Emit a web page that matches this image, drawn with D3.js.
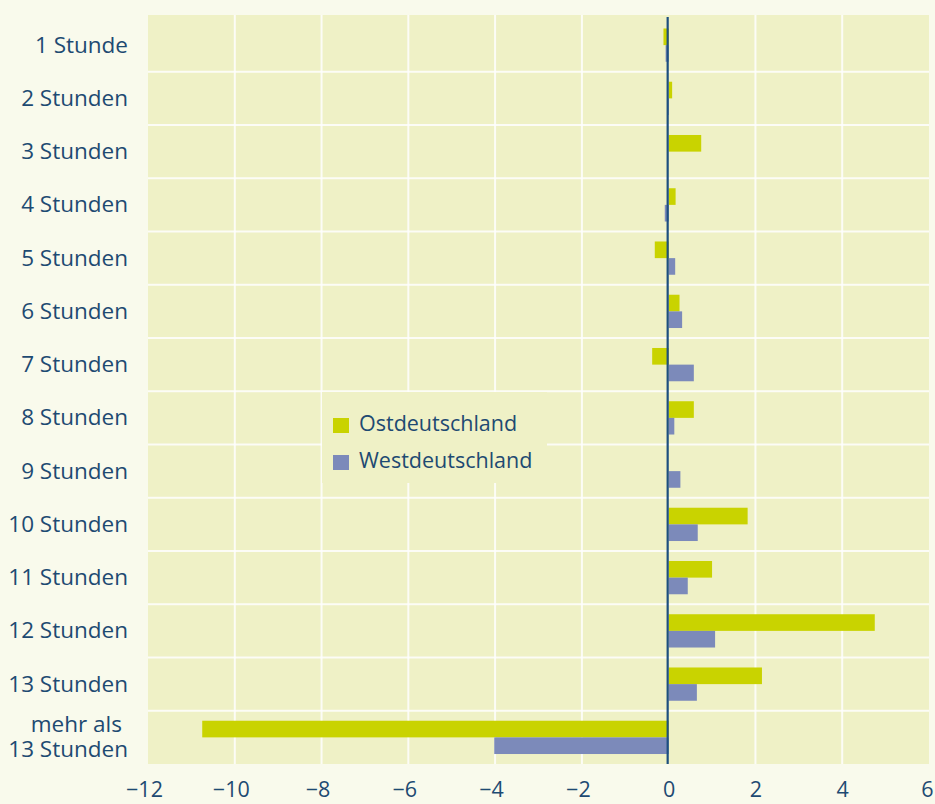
<!DOCTYPE html>
<html>
<head>
<meta charset="utf-8">
<script src="https://cdn.jsdelivr.net/npm/d3@7"></script>
<style>
  html, body { margin: 0; padding: 0; background: #f9faec; }
  svg { display: block; }
  text { font-family: "Open Sans", sans-serif; fill: #1e4a72; }
</style>
</head>
<body>
<svg id="chart" width="935" height="804"></svg>
<script>
const categories = ["1 Stunde", "2 Stunden", "3 Stunden", "4 Stunden", "5 Stunden", "6 Stunden",
  "7 Stunden", "8 Stunden", "9  Stunden", "10 Stunden", "11 Stunden", "12 Stunden", "13 Stunden",
  "mehr als|13 Stunden"];
const ostValues = [-0.12, 0.08, 0.75, 0.16, -0.32, 0.25, -0.38, 0.58, 0, 1.82, 1.0, 4.75, 2.15, -10.75];
const westValues = [-0.07, -0.03, 0, -0.09, 0.15, 0.31, 0.58, 0.13, 0.27, 0.67, 0.44, 1.07, 0.65, -4.02];
const seriesNames = ["Ostdeutschland", "Westdeutschland"];
const seriesColors = ["#c9d300", "#7c8aba"];
const xTicks = [-12, -10, -8, -6, -4, -2, 0, 2, 4, 6];

const svg = d3.select("#chart");
const W = 935, H = 804;
const plotLeft = 148, plotRight = 929, bgTop = 15, rowTop = 18.5, plotBottom = 764;

svg.append("rect").attr("width", W).attr("height", H).attr("fill", "#f9faec");

const x = d3.scaleLinear().domain([-12, 6]).range([plotLeft, plotRight]);
const y = d3.scaleBand().domain(categories).range([rowTop, plotBottom]).paddingInner(0).paddingOuter(0);
const inner = d3.scaleBand().domain(seriesNames).range([0, y.bandwidth()]).paddingInner(0).paddingOuter(0.6);

// plot background
svg.append("rect").attr("x", plotLeft).attr("y", bgTop).attr("width", plotRight - plotLeft)
  .attr("height", plotBottom - bgTop).attr("fill", "#eff1c6");

// gridlines
const grid = svg.append("g");
grid.selectAll("line.v").data(xTicks.filter(t => t !== 0 && t !== -12 && t !== 6)).join("line")
  .attr("x1", d => x(d)).attr("x2", d => x(d))
  .attr("y1", bgTop).attr("y2", plotBottom)
  .attr("stroke", "#ffffff").attr("stroke-width", 2).attr("opacity", 0.85);
grid.selectAll("line.h").data(categories.slice(1)).join("line")
  .attr("x1", plotLeft).attr("x2", plotRight)
  .attr("y1", d => y(d)).attr("y2", d => y(d))
  .attr("stroke", "#ffffff").attr("stroke-width", 2).attr("opacity", 0.85);

// legend background box (covers gridlines)
svg.append("rect").attr("x", 322).attr("y", 392).attr("width", 225).attr("height", 91)
  .attr("fill", "#eff1c6");

// bars
const seriesData = [ostValues, westValues];
seriesData.forEach((vals, si) => {
  svg.append("g").selectAll("rect").data(vals.map((v, i) => ({ v, c: categories[i] }))).join("rect")
    .attr("x", d => x(Math.min(0, d.v)))
    .attr("width", d => Math.abs(x(d.v) - x(0)))
    .attr("y", d => y(d.c) + inner(seriesNames[si]))
    .attr("height", inner.bandwidth())
    .attr("fill", seriesColors[si]);
});

// zero line
svg.append("line").attr("x1", x(0) - 1).attr("x2", x(0) - 1)
  .attr("y1", bgTop + 2).attr("y2", plotBottom)
  .attr("stroke", "#1d4f7f").attr("stroke-width", 2.2);

// x axis labels
const xAxis = d3.axisBottom(x).tickValues(xTicks).tickSize(0).tickPadding(0);
const xg = svg.append("g").attr("transform", `translate(0, ${plotBottom})`).call(xAxis);
xg.select(".domain").remove();
xg.selectAll("text").attr("font-size", 21.5).attr("dy", null).attr("y", 33)
  .attr("font-family", "'Open Sans', sans-serif").attr("fill", "#1e4a72")
  .attr("dx", d => d < 0 ? -4 : (d === 6 ? -2 : 0));

// y axis labels
const yAxis = d3.axisLeft(y).tickSize(0).tickPadding(0).tickFormat("");
const yg = svg.append("g").attr("transform", `translate(${plotLeft}, 0)`).call(yAxis);
yg.select(".domain").remove();
yg.selectAll(".tick").each(function(d) {
  const g = d3.select(this);
  const parts = d.split("|");
  const t = g.append("text").attr("text-anchor", "end").attr("font-size", 22.5);
  if (parts.length === 1) {
    t.attr("x", -20).attr("y", 7.5).text(parts[0]);
  } else {
    t.append("tspan").attr("x", -26).attr("y", -5).text(parts[0]);
    t.append("tspan").attr("x", -20).attr("y", 20).text(parts[1]);
  }
});

// legend
const leg = svg.append("g").attr("transform", "translate(333, 418)");
seriesNames.forEach((name, i) => {
  const row = leg.append("g").attr("transform", `translate(0, ${i * 37})`);
  row.append("rect").attr("width", 16).attr("height", 15).attr("fill", seriesColors[i]);
  row.append("text").attr("x", 26).attr("y", 13).attr("font-size", 21.5).text(name);
});
</script>
</body>
</html>
